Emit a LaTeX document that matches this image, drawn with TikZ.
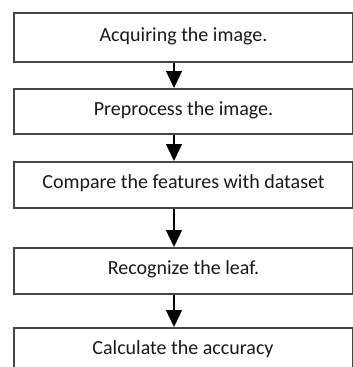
\documentclass[tikz,border=0pt]{standalone}
\usepackage{fontspec}
\setmainfont{Carlito}
\usetikzlibrary{arrows.meta}
\definecolor{boxline}{RGB}{70,70,70}
\tikzset{
  stepbox/.style={draw=boxline, line width=1.6pt, rectangle, inner sep=0pt,
    minimum width=339pt, anchor=north, text height=13pt, text depth=5pt,
    font=\fontsize{20pt}{24pt}\selectfont, text=black!90},
  flowarrow/.style={line width=1.4pt, -{Triangle[width=16pt,length=17pt]}}
}
\begin{document}
\begin{tikzpicture}[x=1pt,y=-1pt]
\useasboundingbox (0,0) rectangle (353,367);
\clip (0,0) rectangle (353,367);
\fill[white] (0,0) rectangle (353,367);
\node[stepbox, minimum height=49pt] (b1) at (183.5,12) {Acquiring the image.};
\node[stepbox, minimum height=45pt] (b2) at (183.5,88) {Preprocess the image.};
\node[stepbox, minimum height=46pt] (b3) at (183.5,161) {Compare the features with dataset};
\node[stepbox, minimum height=46pt] (b4) at (183.5,247) {Recognize the leaf.};
\node[stepbox, minimum height=42pt, text depth=0pt, anchor=north] (b5) at (183.5,327) {};
\node[font=\fontsize{20pt}{24pt}\selectfont, text=black!90, text height=13pt, text depth=5pt, inner sep=0pt] (t5) at (183,350) {Calculate the accuracy};
\draw[flowarrow] (b1.south -| 174,0) -- (b2.north -| 174,0);
\draw[flowarrow] (b2.south -| 174,0) -- (b3.north -| 174,0);
\draw[flowarrow] (b3.south -| 174,0) -- (b4.north -| 174,0);
\draw[flowarrow] (b4.south -| 174,0) -- (b5.north -| 174,0);
\end{tikzpicture}
\end{document}
